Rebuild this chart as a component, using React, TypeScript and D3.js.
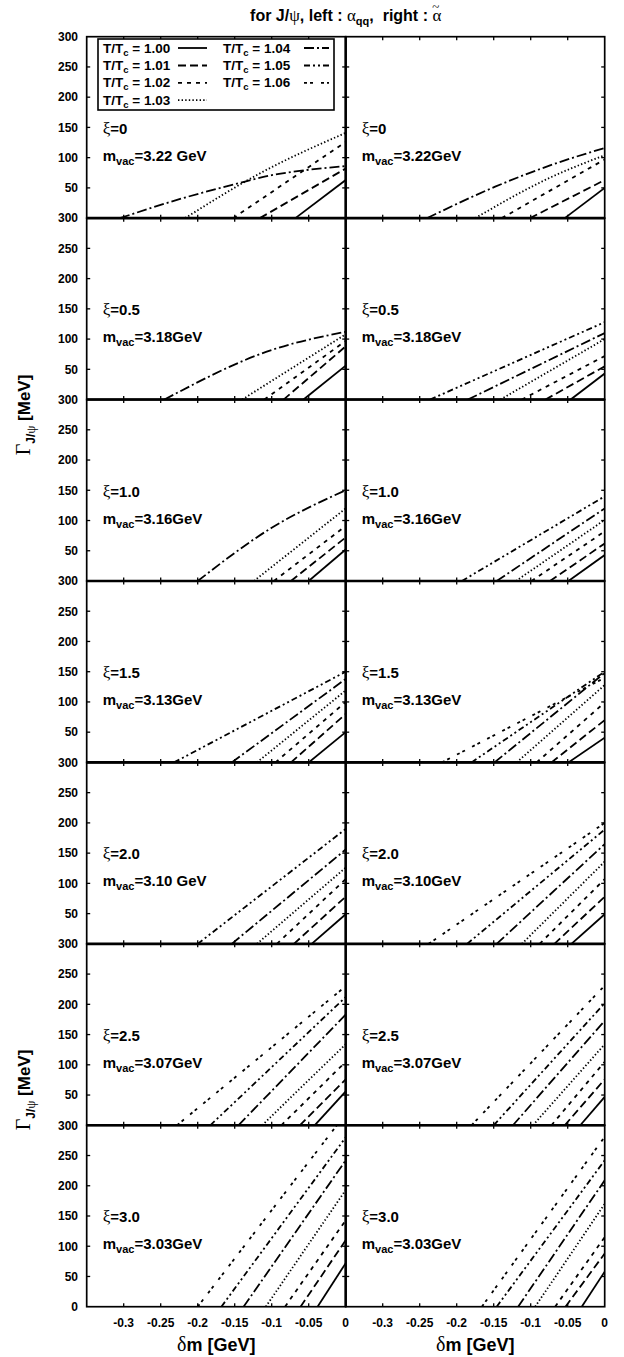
import React from "react";
import * as d3 from "d3";

// ---------- data ----------
const temps = ["1.00", "1.01", "1.02", "1.03", "1.04", "1.05", "1.06"];
const xiLabels = ["0", "0.5", "1.0", "1.5", "2.0", "2.5", "3.0"];
const mvacLeft = ["3.22 GeV", "3.18GeV", "3.16GeV", "3.13GeV", "3.10 GeV", "3.07GeV", "3.03GeV"];
const mvacRight = ["3.22GeV", "3.18GeV", "3.16GeV", "3.13GeV", "3.10GeV", "3.07GeV", "3.03GeV"];
const xTicks = [-0.3, -0.25, -0.2, -0.15, -0.1, -0.05, 0];
const yTicks = [0, 50, 100, 150, 200, 250, 300];

type Pt = [number, number];
type Series = Pt[] | null;

// each panel: 7 series (T/Tc = 1.00 ... 1.06), points [delta m (GeV), Gamma (MeV)]
const left0: Series[] = [
  [[-0.068, 0], [0, 63]],
  [[-0.116, 0], [0, 82]],
  [[-0.152, 0], [0, 126]],
  [[-0.217, 0], [-0.116, 74], [0, 141]],
  [[-0.305, 0], [-0.22, 33], [-0.15, 56], [-0.1, 71], [-0.05, 80], [0, 86]],
  null,
  null,
];
const right0: Series[] = [
  [[-0.054, 0], [0, 50]],
  [[-0.101, 0], [0, 63]],
  [[-0.139, 0], [0, 97]],
  [[-0.175, 0], [-0.072, 68], [0, 104]],
  [[-0.24, 0], [-0.148, 52], [-0.072, 88], [0, 116]],
  null,
  null,
];
const left1: Series[] = [
  [[-0.057, 0], [0, 56]],
  [[-0.084, 0], [0, 88]],
  [[-0.11, 0], [0, 97]],
  [[-0.14, 0], [0, 108]],
  [[-0.245, 0], [-0.1, 82], [0, 112]],
  null,
  null,
];
const right1: Series[] = [
  [[-0.046, 0], [0, 43]],
  [[-0.08, 0], [0, 55]],
  [[-0.112, 0], [0, 72]],
  [[-0.141, 0], [0, 100]],
  [[-0.185, 0], [0, 110]],
  [[-0.236, 0], [0, 128]],
  null,
];
const left2: Series[] = [
  [[-0.05, 0], [0, 52]],
  [[-0.074, 0], [0, 72]],
  [[-0.097, 0], [0, 91]],
  [[-0.124, 0], [0, 120]],
  [[-0.2, 0], [-0.1, 88], [0, 150]],
  null,
  null,
];
const right2: Series[] = [
  [[-0.049, 0], [0, 43]],
  [[-0.074, 0], [0, 62]],
  [[-0.099, 0], [0, 82]],
  [[-0.12, 0], [0, 101]],
  [[-0.146, 0], [0, 120]],
  [[-0.193, 0], [0, 140]],
  null,
];
const left3: Series[] = [
  [[-0.05, 0], [0, 50]],
  [[-0.074, 0], [0, 80]],
  [[-0.095, 0], [0, 100]],
  [[-0.12, 0], [0, 119]],
  [[-0.154, 0], [0, 138]],
  [[-0.232, 0], [0, 150]],
  null,
];
const right3: Series[] = [
  [[-0.049, 0], [0, 41]],
  [[-0.072, 0], [0, 70]],
  [[-0.092, 0], [0, 99]],
  [[-0.119, 0], [0, 128]],
  [[-0.149, 0], [0, 148]],
  [[-0.18, 0], [0, 150]],
  [[-0.22, 0], [0, 140]],
];
const left4: Series[] = [
  [[-0.046, 0], [0, 49]],
  [[-0.07, 0], [0, 78]],
  [[-0.093, 0], [0, 107]],
  [[-0.12, 0], [0, 126]],
  [[-0.154, 0], [0, 156]],
  [[-0.2, 0], [0, 190]],
  null,
];
const right4: Series[] = [
  [[-0.045, 0], [0, 49]],
  [[-0.068, 0], [0, 78]],
  [[-0.088, 0], [0, 107]],
  [[-0.112, 0], [0, 136]],
  [[-0.146, 0], [0, 165]],
  [[-0.186, 0], [0, 189]],
  [[-0.238, 0], [0, 200]],
];
const left5: Series[] = [
  [[-0.042, 0], [0, 56]],
  [[-0.062, 0], [0, 76]],
  [[-0.087, 0], [0, 105]],
  [[-0.113, 0], [0, 134]],
  [[-0.145, 0], [0, 183]],
  [[-0.183, 0], [0, 212]],
  [[-0.228, 0], [0, 230]],
];
const right5: Series[] = [
  [[-0.033, 0], [0, 47]],
  [[-0.054, 0], [0, 76]],
  [[-0.072, 0], [0, 105]],
  [[-0.097, 0], [0, 134]],
  [[-0.124, 0], [0, 173]],
  [[-0.15, 0], [0, 202]],
  [[-0.18, 0], [0, 231]],
];
const left6: Series[] = [
  [[-0.038, 0], [0, 72]],
  [[-0.061, 0], [0, 110]],
  [[-0.082, 0], [0, 143]],
  [[-0.108, 0], [0, 193]],
  [[-0.138, 0], [0, 242]],
  [[-0.168, 0], [0, 280]],
  [[-0.2, 0], [-0.012, 300]],
];
const right6: Series[] = [
  [[-0.031, 0], [0, 58]],
  [[-0.053, 0], [0, 88]],
  [[-0.067, 0], [0, 115]],
  [[-0.094, 0], [0, 170]],
  [[-0.117, 0], [0, 209]],
  [[-0.146, 0], [0, 242]],
  [[-0.166, 0], [0, 281]],
];

const leftPanels = [left0, left1, left2, left3, left4, left5, left6];
const rightPanels = [right0, right1, right2, right3, right4, right5, right6];

// ---------- layout ----------
const W = 624;
const H = 1357;
const X0 = 86.7;
const PW = 259;
const Y0 = 36.7;
const PH = 181.43;
const NROWS = 7;

const dashes = ["", "8,4", "4,5", "1.4,2.2", "10,3,2,3", "6,3,2,3,2,3", "3,3,3,8"];
const SANS = "'Liberation Sans', Arial, Helvetica, sans-serif";
const SERIF = "'Liberation Serif', 'Times New Roman', serif";

const xScale = d3.scaleLinear().domain([-0.35, 0]).range([0, PW]);
const yScale = d3.scaleLinear().domain([0, 300]).range([PH, 0]);
const line = d3
  .line<Pt>()
  .x((d) => xScale(d[0]))
  .y((d) => yScale(d[1]))
  .curve(d3.curveMonotoneX);

function Panel({ row, col }: { row: number; col: number }) {
  const x0 = X0 + col * PW;
  const y0 = Y0 + row * PH;
  const data = col === 0 ? leftPanels[row] : rightPanels[row];
  const id = `clip-${row}-${col}`;
  const tl = 3.5;
  return (
    <g transform={`translate(${x0},${y0})`}>
      <clipPath id={id}>
        <rect x={0} y={0} width={PW} height={PH} />
      </clipPath>
      <g clipPath={`url(#${id})`}>
        {data.map((s, i) =>
          s ? (
            <path
              key={i}
              d={line(s) || ""}
              fill="none"
              stroke="#000"
              strokeWidth={1.8}
              strokeDasharray={dashes[i] || undefined}
            />
          ) : null
        )}
      </g>
      {xTicks.slice(0, 6).map((t) => (
        <g key={`xt${t}`}>
          <line x1={xScale(t)} x2={xScale(t)} y1={PH} y2={PH - tl} stroke="#000" strokeWidth={1.3} />
          <line x1={xScale(t)} x2={xScale(t)} y1={0} y2={tl} stroke="#000" strokeWidth={1.3} />
        </g>
      ))}
      {yTicks.slice(1, 6).map((t) => (
        <g key={`yt${t}`}>
          <line x1={0} x2={tl} y1={yScale(t)} y2={yScale(t)} stroke="#000" strokeWidth={1.3} />
          <line x1={PW} x2={PW - tl} y1={yScale(t)} y2={yScale(t)} stroke="#000" strokeWidth={1.3} />
        </g>
      ))}
      <rect x={0} y={0} width={PW} height={PH} fill="none" stroke="#000" strokeWidth={1.7} />
      <text x={16} y={97} fontFamily={SERIF} fontSize={17}>
        ξ
        <tspan fontFamily={SANS} fontWeight="bold" fontSize={15}>
          ={xiLabels[row]}
        </tspan>
      </text>
      <text x={16} y={124} fontFamily={SANS} fontWeight="bold" fontSize={15}>
        m
        <tspan fontSize={11} dy={4}>
          vac
        </tspan>
        <tspan dy={-4}>={col === 0 ? mvacLeft[row] : mvacRight[row]}</tspan>
      </text>
    </g>
  );
}

function Legend() {
  const bx = 98;
  const by = 39;
  const rowsY = [52.5, 70, 87.3, 104.6];
  const items = temps.map((t, i) => {
    const c = i < 4 ? 0 : 1;
    const r = i < 4 ? i : i - 4;
    return { t, i, c, r };
  });
  return (
    <g>
      <rect x={bx} y={by} width={236} height={71} fill="#fff" stroke="#000" strokeWidth={1.6} />
      {items.map(({ t, i, c, r }) => {
        const tx = c === 0 ? 103 : 223;
        const sx1 = c === 0 ? 178 : 304;
        const sx2 = c === 0 ? 207 : 329;
        const y = rowsY[r];
        return (
          <g key={t}>
            <text x={tx} y={y} fontFamily={SANS} fontWeight="bold" fontSize={13.5}>
              T/T
              <tspan fontSize={9.5} dy={3}>
                c
              </tspan>
              <tspan dy={-3}> = {t}</tspan>
            </text>
            <line
              x1={sx1}
              x2={sx2}
              y1={y - 4.5}
              y2={y - 4.5}
              stroke="#000"
              strokeWidth={1.8}
              strokeDasharray={dashes[i] || undefined}
            />
          </g>
        );
      })}
    </g>
  );
}

export default function App() {
  const rows = d3.range(NROWS);
  const bottom = Y0 + NROWS * PH;
  return (
    <svg
      width={W}
      height={H}
      viewBox={`0 0 ${W} ${H}`}
      style={{ position: "absolute", left: 0, top: 0, background: "#fff" }}
    >
      <rect x={0} y={0} width={W} height={H} fill="#fff" />
      <text
        x={345.7}
        y={21}
        textAnchor="middle"
        fontFamily={SANS}
        fontWeight="bold"
        fontSize={16}
        style={{ whiteSpace: "pre" }}
      >
        for J/
        <tspan fontFamily={SERIF} fontWeight="normal" fontSize={17}>
          ψ
        </tspan>
        {", left : "}
        <tspan fontFamily={SERIF} fontWeight="normal" fontSize={17}>
          α
        </tspan>
        <tspan fontSize={11} dy={4}>
          qq
        </tspan>
        <tspan dy={-4}>{",  right : "}</tspan>
        <tspan fontFamily={SERIF} fontWeight="normal" fontSize={17}>
          α
        </tspan>
        <tspan fontFamily={SERIF} fontWeight="normal" fontSize={13} dx={-9} dy={-10}>
          ~
        </tspan>
      </text>
      {rows.map((r) => (
        <g key={r}>
          <Panel row={r} col={0} />
          <Panel row={r} col={1} />
        </g>
      ))}
      {d3.range(1, NROWS).map((r) => (
        <line key={r} x1={X0} x2={X0 + 2 * PW} y1={Y0 + r * PH} y2={Y0 + r * PH} stroke="#000" strokeWidth={2.6} />
      ))}
      <line x1={X0 + PW} x2={X0 + PW} y1={Y0} y2={bottom} stroke="#000" strokeWidth={2.4} />
      <Legend />
      {rows.map((r) =>
        yTicks.map((t) =>
          t === 0 && r < NROWS - 1 ? null : (
            <text
              key={`yl${r}-${t}`}
              x={78}
              y={Y0 + r * PH + yScale(t) + 4.3}
              textAnchor="end"
              fontFamily={SANS}
              fontWeight="bold"
              fontSize={12}
            >
              {t}
            </text>
          )
        )
      )}
      {[0, 1].map((c) =>
        xTicks.map((t) => (
          <text
            key={`xl${c}${t}`}
            x={X0 + c * PW + xScale(t)}
            y={bottom + 20}
            textAnchor="middle"
            fontFamily={SANS}
            fontWeight="bold"
            fontSize={12}
          >
            {t === 0 ? "0" : String(t)}
          </text>
        ))
      )}
      {[0, 1].map((c) => (
        <text
          key={`xa${c}`}
          x={X0 + c * PW + PW / 2}
          y={bottom + 44}
          textAnchor="middle"
          fontFamily={SANS}
          fontWeight="bold"
          fontSize={18}
        >
          <tspan fontFamily={SERIF} fontWeight="normal" fontSize={20}>
            δ
          </tspan>
          m [GeV]
        </text>
      ))}
      {[415, 1090].map((cy, k) => (
        <text
          key={`ya${k}`}
          transform={`translate(30,${cy}) rotate(-90)`}
          textAnchor="middle"
          fontFamily={SANS}
          fontWeight="bold"
          fontSize={17}
        >
          <tspan fontFamily={SERIF} fontWeight="normal" fontSize={20}>
            Γ
          </tspan>
          <tspan fontSize={12} dy={5}>
            J/
          </tspan>
          <tspan fontFamily={SERIF} fontWeight="normal" fontSize={13}>
            ψ
          </tspan>
          <tspan dy={-5}> [MeV]</tspan>
        </text>
      ))}
    </svg>
  );
}
